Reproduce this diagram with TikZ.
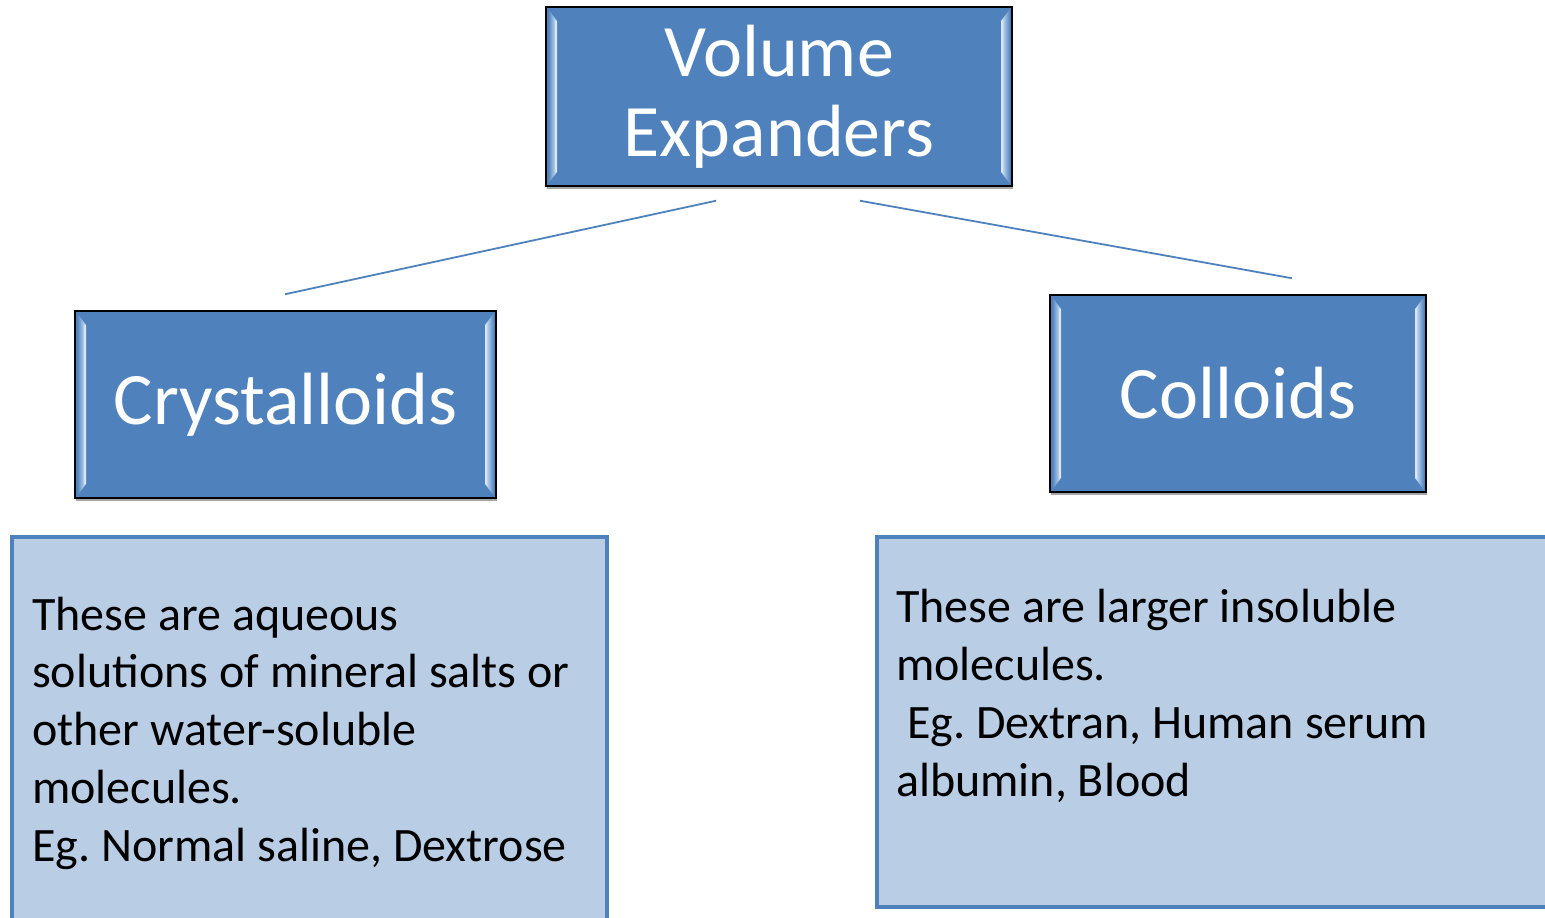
\documentclass[tikz,border=0pt]{standalone}
\usepackage{fontspec}
\setmainfont{Carlito}
\frenchspacing
\usetikzlibrary{calc,shadows}
\definecolor{darkblue}{HTML}{4F81BD}
\definecolor{paleblue}{HTML}{B9CDE5}
\definecolor{hilite}{HTML}{D6EAFB}
\tikzset{
  bevelbox/.style={draw=black, line width=1.5pt, fill=darkblue, inner sep=0pt,
    text=white, font=\fontsize{74}{80}\selectfont, align=center,
    drop shadow={shadow xshift=1pt, shadow yshift=-3pt, opacity=0.35, fill=black},
    path picture={
      \coordinate (pnw) at (path picture bounding box.north west);
      \coordinate (pse) at (path picture bounding box.south east);
      \shade[left color=darkblue, right color=hilite]
        ($(pnw)+(2,2)$) -- ($(pnw)+(11,14)$) -- ($(pnw|-pse)+(11,-14)$) -- ($(pnw|-pse)+(2,-2)$) -- cycle;
      \shade[left color=hilite, right color=darkblue]
        ($(pse|-pnw)+(-2,2)$) -- ($(pse|-pnw)+(-11,14)$) -- ($(pse)+(-11,-14)$) -- ($(pse)+(-2,-2)$) -- cycle;
      \draw[white!80!darkblue, line width=1.5pt] ($(pnw)+(10,14)$) -- ($(pnw|-pse)+(10,-14)$);
      \draw[white!80!darkblue, line width=1.5pt] ($(pse|-pnw)+(-10,14)$) -- ($(pse)+(-10,-14)$);
    }},
  descbox/.style={draw=darkblue, line width=3.5pt, fill=paleblue, inner sep=0pt},
  desctext/.style={anchor=base west, align=left, inner sep=0pt, text=black,
    font=\fontsize{48}{57.7}\selectfont},
  link/.style={draw=darkblue, line width=1.8pt}
}
\begin{document}
\begin{tikzpicture}[x=1pt,y=-1pt]
\useasboundingbox (0,0) rectangle (1545,918);
\begin{scope}
\clip (0,0) rectangle (1545,918);
% top box
\node[bevelbox, minimum width=466pt, minimum height=179pt] (top) at (779,96.5) {Volume\\Expanders};
% second level
\node[bevelbox, minimum width=421pt, minimum height=187pt] (cry) at (285.5,404.5) {Crystalloids};
\node[bevelbox, minimum width=376pt, minimum height=197pt] (col) at (1238,393.5) {Colloids};
% connectors
\coordinate (tl) at ($(top.south)+(-63,14)$);
\coordinate (tr) at ($(top.south)+(81,14)$);
\coordinate (cl) at ($(cry.north)+(-0.5,-16)$);
\coordinate (cr) at ($(col.north)+(54,-16)$);
\draw[link] (tl) -- (cl);
\draw[link] (tr) -- (cr);
% description boxes
\node[descbox, minimum width=595pt, minimum height=400pt, anchor=north west] (dl) at (10,535) {};
\node[descbox, minimum width=690pt, minimum height=370pt, anchor=north west] (dr) at (875,535) {};
\node[desctext] (tdl) at ($(dl.north west)+(22,326)$) {These are aqueous\\solutions of mineral salts or\\other water-soluble\\molecules.\\Eg. Normal saline, Dextrose};
\node[desctext] (tdr) at ($(dr.north west)+(21,261)$) {These are larger insoluble\\molecules.\\\ Eg. Dextran, Human serum\\albumin, Blood};
\end{scope}
\end{tikzpicture}
\end{document}
